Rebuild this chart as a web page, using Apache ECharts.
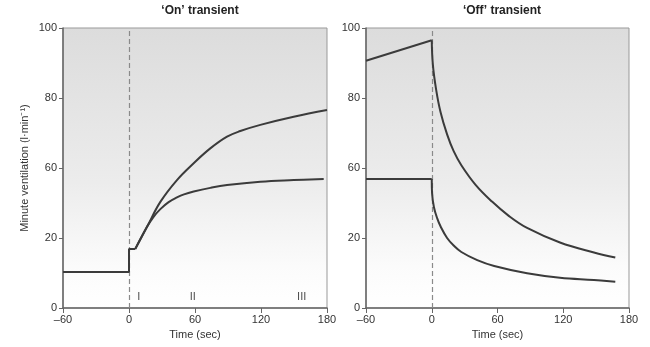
<!DOCTYPE html>
<html>
<head>
<meta charset="utf-8">
<script src="https://cdn.jsdelivr.net/npm/echarts@6/dist/echarts.min.js"></script>
<style>html,body{margin:0;padding:0;background:#fff}#c{width:650px;height:347px}</style>
</head>
<body>
<div id="c"></div>
<script>
// Tick labels (the reference axis shows 0,20,60,80,100 at equal spacing);
// values below are in axis-position units (0..100 along the drawn axis).
var yTickLabels = ['0', '20', '60', '80', '100'];
var xTicks = [-60, 0, 60, 120, 180];

// 'On' transient
var onBaseline = [[-60, 12.9], [0, 12.9], [0, 21.1], [5.7, 21.1]];
var onUpper = [[5.7, 21.1], [16.4, 29.0], [28.5, 37.9], [43.6, 45.7], [58.8, 51.7], [73.9, 57.0], [89.1, 61.2], [101.2, 63.2], [119.4, 65.4], [149.7, 68.3], [180, 70.7]];
var onLower = [[5.7, 21.1], [16.4, 29.0], [22, 32.4], [28.5, 35.3], [36, 37.8], [43.6, 39.5], [50, 40.6], [58.8, 41.6], [73.9, 42.9], [89.1, 43.9], [119.4, 45.1], [149.7, 45.7], [177, 46.1]];
var phaseNames = ['I', 'II', 'III'];
var phaseTimes = [9, 58, 157];

// 'Off' transient
var offUpperPre = [[-60, 88.3], [0, 95.6]];
var offUpper = [[0, 95.6], [1, 87], [4, 78], [8, 70], [14, 62], [20, 56], [27, 51], [40, 44], [55, 38], [70, 33], [87, 28.6], [117, 23.4], [148, 19.8], [167.5, 18.0]];
var offLowerPre = [[-60, 46.1], [0, 46.1]];
var offLower = [[0, 46.1], [0.3, 41], [2, 36], [5, 32], [8.2, 29], [14, 25], [20, 22.3], [27, 20], [41.5, 17.1], [57, 15], [87, 12.4], [117, 10.8], [148, 10.0], [167.5, 9.4]];

var FONT = '"Liberation Sans Narrow", "Liberation Sans", Arial, sans-serif';
var lineCol = '#3b3b3b';
var bg = new echarts.graphic.LinearGradient(0, 0, 0, 1, [
  {offset: 0, color: '#dcdcdc'},
  {offset: 0.55, color: '#ececec'},
  {offset: 0.85, color: '#fbfbfb'},
  {offset: 1, color: '#ffffff'}
]);

function xAx(idx) {
  return {
    type: 'value', gridIndex: idx, min: -60, max: 180, interval: 60,
    name: 'Time (sec)', nameLocation: 'middle', nameGap: 19,
    nameTextStyle: {fontFamily: FONT, fontSize: 11, color: '#333'},
    axisLine: {show: true, onZero: false, lineStyle: {color: '#666', width: 1.5}},
    axisTick: {show: true, length: 5, lineStyle: {color: '#666'}},
    axisLabel: {fontFamily: FONT, fontSize: 11, color: '#333', margin: 6,
      formatter: function (v) { return v < 0 ? '\u2013' + Math.abs(v) : String(v); }},
    splitLine: {show: false}
  };
}
function yAx(idx, withName) {
  return {
    type: 'value', gridIndex: idx, min: 0, max: 100, interval: 25,
    name: withName ? 'Minute ventilation (l\u00b7min\u207b\u00b9)' : '',
    nameLocation: 'middle', nameGap: 33,
    nameTextStyle: {fontFamily: FONT, fontSize: 11, color: '#333'},
    axisLine: {show: true, onZero: false, lineStyle: {color: '#666', width: 1.5}},
    axisTick: {show: true, length: 4, lineStyle: {color: '#666'}},
    axisLabel: {fontFamily: FONT, fontSize: 11, color: '#333', margin: 6,
      formatter: function (v) { return yTickLabels[Math.round(v / 25)]; }},
    splitLine: {show: false}
  };
}
function line(data, xi, smooth) {
  return {
    type: 'line', xAxisIndex: xi, yAxisIndex: xi, data: data,
    smooth: smooth ? 0.4 : false, symbol: 'none',
    lineStyle: {color: lineCol, width: 2}, z: 5
  };
}
function dashed(xi) {
  return {
    type: 'line', xAxisIndex: xi, yAxisIndex: xi, data: [], symbol: 'none', z: 2,
    markLine: {silent: true, symbol: 'none', label: {show: false},
      lineStyle: {color: '#8a8a8a', type: [5, 3], width: 1.2},
      data: [{xAxis: 0}]}
  };
}

var chart = echarts.init(document.getElementById('c'));
chart.setOption({
  animation: false,
  backgroundColor: '#fff',
  title: [
    {text: '\u2018On\u2019 transient', left: 195, top: 0, textAlign: 'center',
      textStyle: {fontFamily: FONT, fontSize: 12, fontWeight: 'bold', color: '#222'}},
    {text: '\u2018Off\u2019 transient', left: 497, top: 0, textAlign: 'center',
      textStyle: {fontFamily: FONT, fontSize: 12, fontWeight: 'bold', color: '#222'}}
  ],
  grid: [
    {left: 63, width: 264, top: 28, height: 280, show: true, backgroundColor: bg, borderColor: '#999', borderWidth: 1},
    {left: 366, width: 263, top: 28, height: 280, show: true, backgroundColor: bg, borderColor: '#999', borderWidth: 1}
  ],
  xAxis: [xAx(0), xAx(1)],
  yAxis: [yAx(0, true), yAx(1, false)],
  series: [
    dashed(0), dashed(1),
    line(onBaseline, 0, false),
    line(onUpper, 0, true),
    line(onLower, 0, true),
    {
      type: 'scatter', xAxisIndex: 0, yAxisIndex: 0, symbolSize: 0,
      data: phaseTimes.map(function (t, i) { return {value: [t, 4], name: phaseNames[i]}; }),
      label: {show: true, position: 'inside', formatter: '{b}', fontFamily: FONT, fontSize: 11, color: '#222'}
    },
    line(offUpperPre, 1, false),
    line(offUpper, 1, true),
    line(offLowerPre, 1, false),
    line(offLower, 1, true)
  ]
});
</script>
</body>
</html>
